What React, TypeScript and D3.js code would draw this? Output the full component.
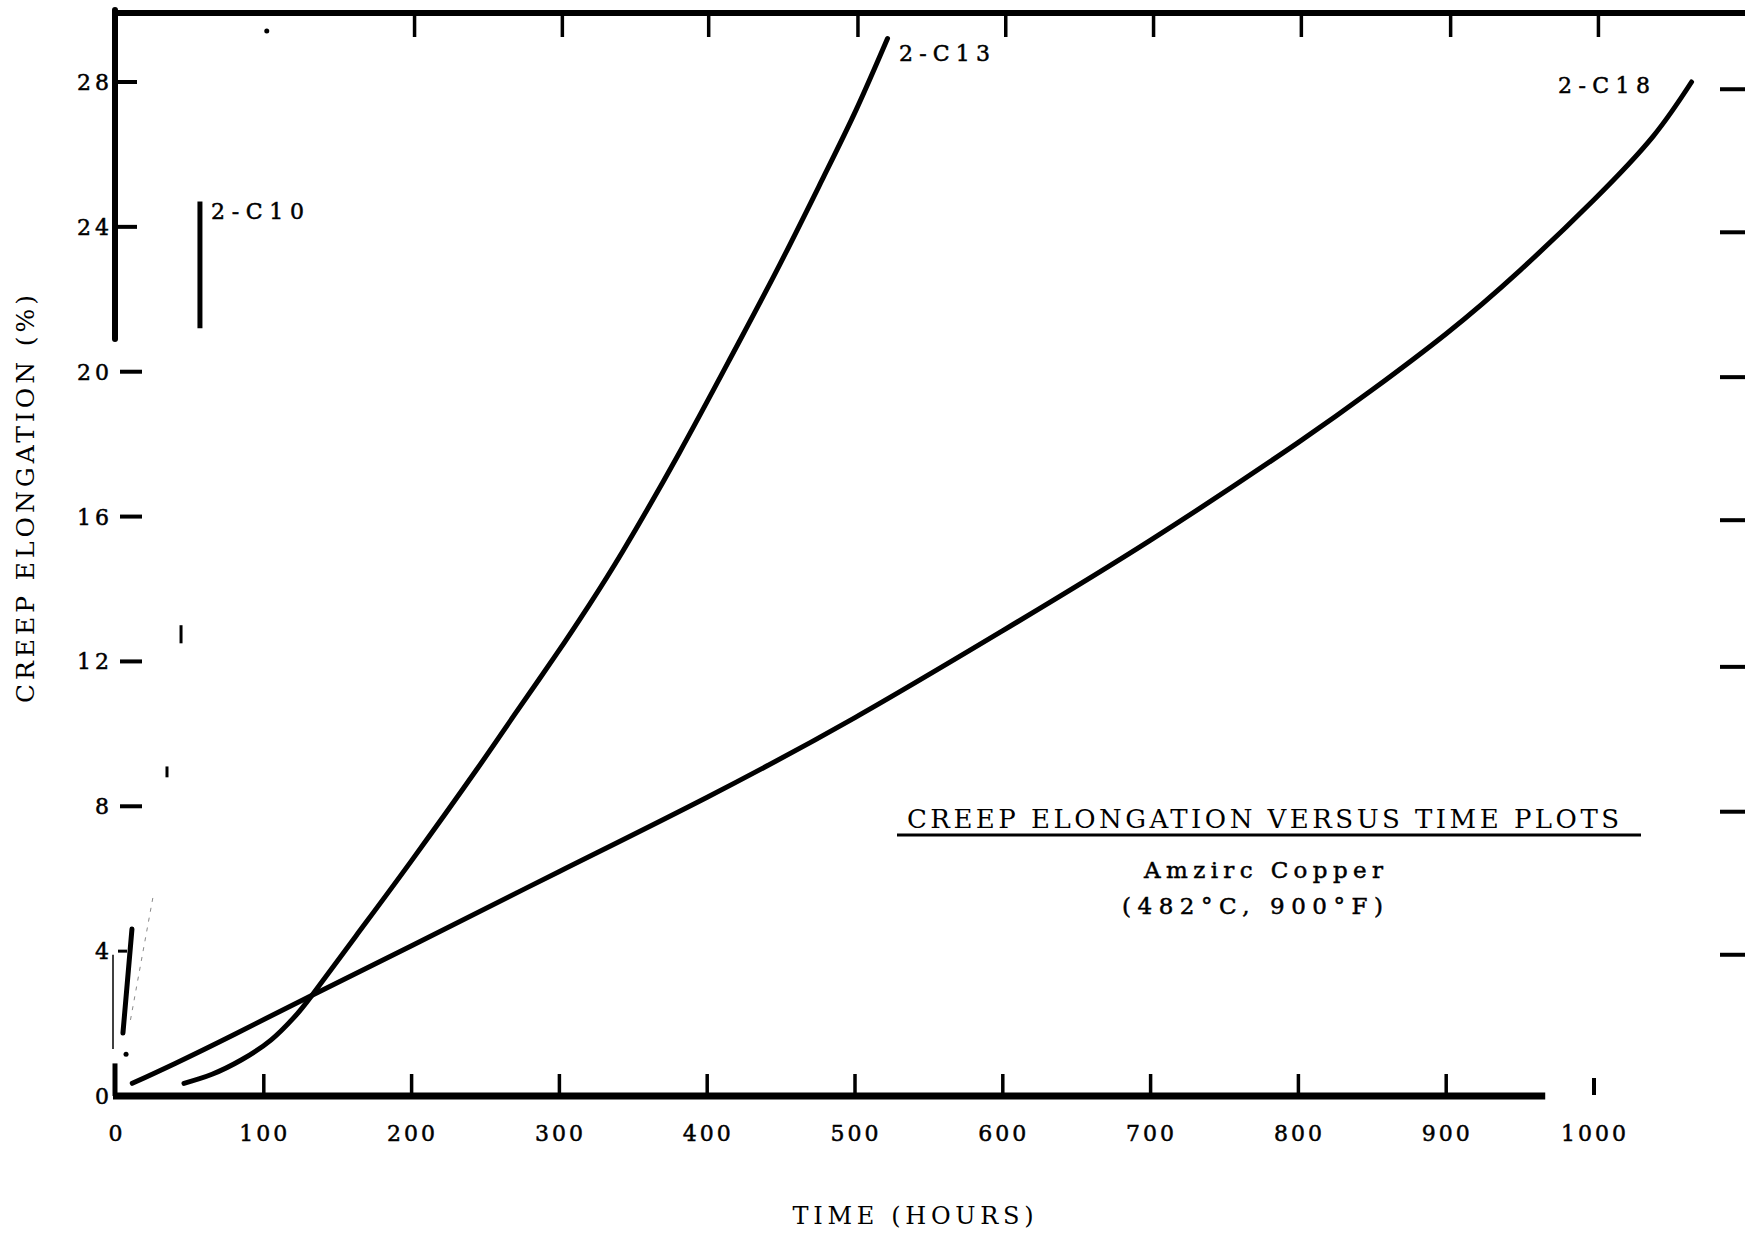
import React from "react";
import * as d3 from "d3";

// ---- data (hours, creep elongation %) ----
const c13Hours = [46, 65, 85, 105, 120, 132, 162, 200, 245, 270, 298, 320, 343, 381, 418, 449, 479, 501, 522];
const c13Elong = [0.35, 0.6, 1.0, 1.55, 2.15, 2.75, 4.4, 6.5, 9.07, 10.55, 12.2, 13.55, 15.05, 17.75, 20.55, 22.95, 25.4, 27.25, 29.2];

const c18Hours = [11, 40, 80, 131, 200, 300, 400, 500, 600, 700, 800, 850, 900, 950, 1000, 1040, 1066];
const c18Elong = [0.35, 0.9, 1.7, 2.75, 4.15, 6.2, 8.25, 10.45, 12.85, 15.35, 18.05, 19.5, 21.05, 22.8, 24.75, 26.5, 28.0];

// 2-C10 fragments (poorly reproduced in the scan)
const c10MainHours = [4.7, 10.8];
const c10MainElong = [1.74, 4.61];
const c10FaintHours = [9.8, 25.5];
const c10FaintElong = [2.1, 5.6];
const c10MarkHours = [34.5, 44];
const c10MarkLow = [8.8, 12.5];
const c10MarkHigh = [9.1, 13.0];
const c10EndHours = 56.8;
const c10EndLow = 21.2;
const c10EndHigh = 24.7;

const xTicks = [0, 100, 200, 300, 400, 500, 600, 700, 800, 900, 1000];
const topTicks = [202, 302, 401, 502, 602, 702, 802, 903, 1003];
const yTicks = [0, 4, 8, 12, 16, 20, 24, 28];
const rightTicks = [27.8, 23.85, 19.85, 15.9, 11.85, 7.85, 3.9];

const FONT = "'DejaVu Serif', 'Liberation Serif', serif";

export default function App() {
  const W = 1745, H = 1233;
  const x = d3.scaleLinear().domain([0, 1000]).range([116, 1594]);
  const y = d3.scaleLinear().domain([0, 28]).range([1096, 82]);

  const line = d3
    .line<[number, number]>()
    .x((d) => x(d[0]))
    .y((d) => y(d[1]))
    .curve(d3.curveNatural);

  const c13 = c13Hours.map((h, i) => [h, c13Elong[i]] as [number, number]);
  const c18 = c18Hours.map((h, i) => [h, c18Elong[i]] as [number, number]);
  const c10a = c10MainHours.map((h, i) => [h, c10MainElong[i]] as [number, number]);
  const c10b = c10FaintHours.map((h, i) => [h, c10FaintElong[i]] as [number, number]);

  const axisX0 = x(0) - 1;
  const txt = { fill: "#000", stroke: "#000", strokeWidth: 0.5 };

  return (
    <svg
      width={W}
      height={H}
      style={{ position: "absolute", left: 0, top: 0, background: "#fff" }}
      fontFamily={FONT}
    >
      <rect x={0} y={0} width={W} height={H} fill="#fff" />

      {/* top border */}
      <line x1={axisX0 - 2} x2={W} y1={13} y2={13} stroke="#000" strokeWidth={6} />
      {topTicks.map((t) => (
        <line key={"tt" + t} x1={x(t)} x2={x(t)} y1={13} y2={37} stroke="#000" strokeWidth={3.5} />
      ))}
      <circle cx={x(102)} cy={31} r={2.5} fill="#000" />

      {/* left axis (upper, solid part) */}
      <line x1={axisX0} x2={axisX0} y1={10} y2={y(20.9)} stroke="#000" strokeWidth={6} strokeLinecap="round" />
      {/* lower left stubs */}
      <line x1={axisX0 - 2} x2={axisX0 - 2} y1={y(3.9)} y2={y(1.3)} stroke="#000" strokeWidth={1.5} />
      <line x1={axisX0} x2={axisX0} y1={y(0.9)} y2={y(0)} stroke="#000" strokeWidth={5} />
      <circle cx={x(6.8)} cy={y(1.15)} r={2.5} fill="#000" />

      {/* left ticks */}
      {yTicks.filter((t) => t >= 24).map((t) => (
        <line key={"lt" + t} x1={axisX0} x2={axisX0 + 22} y1={y(t)} y2={y(t)} stroke="#000" strokeWidth={4} />
      ))}
      {yTicks.filter((t) => t >= 8 && t <= 20).map((t) => (
        <line key={"lt" + t} x1={axisX0 + 5} x2={axisX0 + 27} y1={y(t)} y2={y(t)} stroke="#000" strokeWidth={4} />
      ))}
      <line x1={axisX0 + 3} x2={axisX0 + 12} y1={y(4)} y2={y(4)} stroke="#000" strokeWidth={3} />

      {/* left tick labels */}
      {yTicks.map((t) => (
        <text key={"yl" + t} x={113} y={y(t) + 8} textAnchor="end" fontSize={22} letterSpacing={4} {...txt}>
          {t}
        </text>
      ))}

      {/* right ticks */}
      {rightTicks.map((t) => (
        <line key={"rt" + t} x1={1720} x2={W} y1={y(t)} y2={y(t)} stroke="#000" strokeWidth={4} />
      ))}

      {/* bottom axis */}
      <line x1={axisX0 - 2} x2={x(967)} y1={y(0)} y2={y(0)} stroke="#000" strokeWidth={7} />
      {xTicks.filter((t) => t > 0 && t < 1000).map((t) => (
        <line key={"bt" + t} x1={x(t)} x2={x(t)} y1={y(0)} y2={y(0) - 22} stroke="#000" strokeWidth={3.5} />
      ))}
      <line x1={x(1000)} x2={x(1000)} y1={y(0) - 1} y2={y(0) - 18} stroke="#000" strokeWidth={4} />
      {xTicks.map((t) => (
        <text key={"xl" + t} x={x(t) + 1} y={1141} textAnchor="middle" fontSize={22} letterSpacing={3} {...txt}>
          {t}
        </text>
      ))}

      {/* curves */}
      <path d={line(c13) || ""} fill="none" stroke="#000" strokeWidth={5} strokeLinecap="round" />
      <path d={line(c18) || ""} fill="none" stroke="#000" strokeWidth={5} strokeLinecap="round" />
      <path d={line(c10a) || ""} fill="none" stroke="#000" strokeWidth={5} strokeLinecap="round" />
      <path d={line(c10b) || ""} fill="none" stroke="#888" strokeWidth={1} strokeDasharray="4 6" />
      {c10MarkHours.map((h, i) => (
        <line key={"m" + i} x1={x(h)} x2={x(h)} y1={y(c10MarkLow[i])} y2={y(c10MarkHigh[i])} stroke="#000" strokeWidth={3} />
      ))}
      <line x1={x(c10EndHours)} x2={x(c10EndHours)} y1={y(c10EndLow)} y2={y(c10EndHigh)} stroke="#000" strokeWidth={5} />

      {/* curve labels */}
      <text x={899} y={61} fontSize={22} textLength={91} lengthAdjust="spacing" {...txt}>2-C13</text>
      <text x={1558} y={93} fontSize={22} textLength={92} lengthAdjust="spacing" {...txt}>2-C18</text>
      <text x={211} y={219} fontSize={22} textLength={93} lengthAdjust="spacing" {...txt}>2-C10</text>

      {/* annotation */}
      <text x={907} y={828} fontSize={26} textLength={712} lengthAdjust="spacing" fill="#000">
        CREEP ELONGATION VERSUS TIME PLOTS
      </text>
      <line x1={897} x2={1641} y1={835} y2={835} stroke="#000" strokeWidth={3} />
      <text x={1144} y={878} fontSize={23} textLength={239} lengthAdjust="spacing" {...txt}>
        Amzirc Copper
      </text>
      <text x={1122} y={914} fontSize={23} textLength={261} lengthAdjust="spacing" {...txt}>
        (482°C,  900°F)
      </text>

      {/* axis titles */}
      <text
        transform={`translate(34, 499) rotate(-90)`}
        textAnchor="middle"
        fontSize={25}
        textLength={408}
        lengthAdjust="spacing"
        fill="#000"
      >
        CREEP ELONGATION  (%)
      </text>
      <text x={913} y={1224} textAnchor="middle" fontSize={24} textLength={241} lengthAdjust="spacing" fill="#000">
        TIME  (HOURS)
      </text>
    </svg>
  );
}
